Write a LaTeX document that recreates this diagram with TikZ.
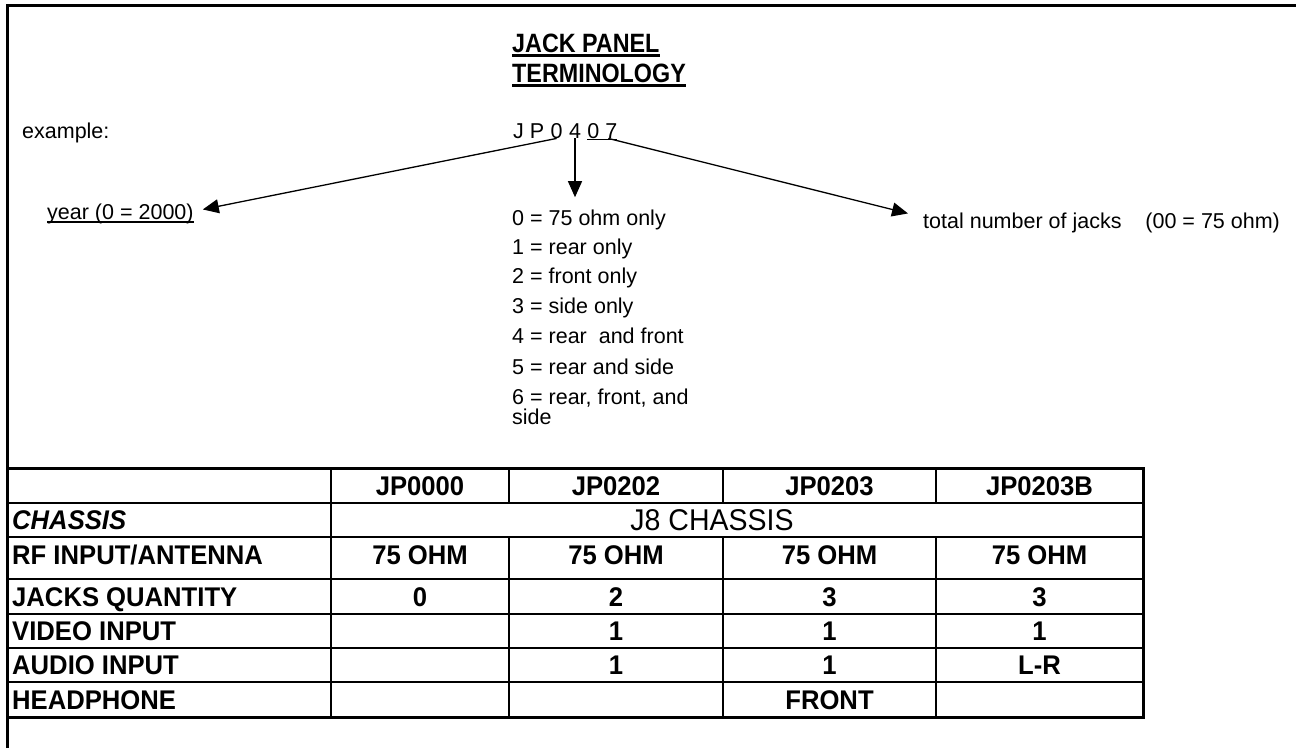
\documentclass[tikz,border=0pt]{standalone}
\usepackage{fontspec}
\setmainfont{Liberation Sans}
\newfontfamily\narrowfont[FakeStretch=0.88]{Liberation Sans}
\newfontfamily\tablefont[FakeStretch=0.95]{Liberation Sans}
\usetikzlibrary{arrows.meta,positioning}

\tikzset{
  body/.style={font=\fontsize{21.5}{26}\selectfont,inner sep=0pt,anchor=base west},
  titletxt/.style={font=\narrowfont\bfseries\fontsize{26.5}{30}\selectfont,inner sep=0pt,anchor=base west},
  tabbold/.style={font=\tablefont\bfseries\fontsize{27}{30}\selectfont,inner sep=0pt,text depth=0pt},
  rowname/.style={tabbold,anchor=west},
  rowital/.style={rowname,font=\tablefont\bfseries\itshape\fontsize{27}{30}\selectfont},
  spantxt/.style={font=\tablefont\fontsize{30}{34}\selectfont,inner sep=0pt,text depth=0pt},
  pointer/.style={-{Triangle[length=16pt,width=14pt]},line width=1.3pt},
  gridline/.style={line width=1.4pt},
  frameline/.style={line width=3pt},
}

\begin{document}
\begin{tikzpicture}[x=1pt,y=-1pt]
\useasboundingbox (0,0) rectangle (1296,748);
% frame, left and top only
\draw[frameline] (7,748) -- (7,5) -- (1296,5);

% heading
\node[titletxt] (ttl1) at (512,52) {JACK PANEL};
\node[titletxt] (ttl2) at (512,82) {TERMINOLOGY};
\draw[line width=2.4pt] ([yshift=-3.5pt]ttl1.base west) -- ([yshift=-3.5pt]ttl1.base east);
\draw[line width=2.4pt] ([yshift=-3.5pt]ttl2.base west) -- ([yshift=-3.5pt]ttl2.base east);

% code
\node[body] (example) at (22,138) {example:};
\node[body] (jp) at (513,138) {J P};
\node[body,base right=6pt of jp] (yrdigit) {0};
\node[body,base right=6pt of yrdigit] (kind) {4};
\node[body,base right=6pt of kind] (count) {0 7};
\draw[line width=1.3pt] ([yshift=-1.5pt]count.base west) -- ([yshift=-1.5pt]count.base east);

% meanings
\node[body] (year) at (47,219) {year (0 = 2000)};
\draw[line width=1.2pt] ([yshift=-3pt]year.base west) -- ([yshift=-3pt]year.base east);
\node[body] (total) at (923,228) {total number of jacks\ \ \ \ (00 = 75 ohm)};
\node[body] (k0) at (512,225) {0 = 75 ohm only};
\node[body] (k1) at (512,254) {1 = rear only};
\node[body] (k2) at (512,283) {2 = front only};
\node[body] (k3) at (512,313) {3 = side only};
\node[body] (k4) at (512,343) {4 = rear\ \ and front};
\node[body] (k5) at (512,374) {5 = rear and side};
\node[body] (k6) at (512,404) {6 = rear, front, and};
\node[body] (k6b) at (512,424) {side};

\coordinate (yeartip) at ([xshift=9pt,yshift=4pt]year.east);
\coordinate (totaltip) at ([xshift=-15pt,yshift=9pt]total.west);
\path (kind.south) ++(0,59) coordinate (kindtip);
\draw[pointer] (yrdigit.south) -- (yeartip);
\draw[pointer] (kind.south) -- (kindtip);
\draw[pointer] ([xshift=6pt]count.south) -- (totaltip);

% table
\draw[frameline] (7,468) rectangle (1143,717);
\foreach \ry in {503,537,579,614,648,682}
  \draw[gridline] (7,\ry) -- (1143,\ry);
\draw[gridline] (331,468) -- (331,717);
\foreach \cx in {509,723,936} {
  \draw[gridline] (\cx,468) -- (\cx,503);
  \draw[gridline] (\cx,537) -- (\cx,717);
}

\node[tabbold] (h1) at (420,486) {JP0000};
\node[tabbold] (h2) at (616,486) {JP0202};
\node[tabbold] (h3) at (829.5,486) {JP0203};
\node[tabbold] (h4) at (1039.5,486) {JP0203B};

\node[rowital] (chs) at (12,520) {CHASSIS};
\node[spantxt] (j8) at (712,520) {J8 CHASSIS};

\node[rowname] (rf) at (12,555) {RF INPUT/ANTENNA};
\node[tabbold] (rf1) at (420,555) {75 OHM};
\node[tabbold] (rf2) at (616,555) {75 OHM};
\node[tabbold] (rf3) at (829.5,555) {75 OHM};
\node[tabbold] (rf4) at (1039.5,555) {75 OHM};

\node[rowname] (jq) at (12,597) {JACKS QUANTITY};
\node[tabbold] (jq1) at (420,597) {0};
\node[tabbold] (jq2) at (616,597) {2};
\node[tabbold] (jq3) at (829.5,597) {3};
\node[tabbold] (jq4) at (1039.5,597) {3};

\node[rowname] (vid) at (12,631) {VIDEO INPUT};
\node[tabbold] (vid2) at (616,631) {1};
\node[tabbold] (vid3) at (829.5,631) {1};
\node[tabbold] (vid4) at (1039.5,631) {1};

\node[rowname] (aud) at (12,665) {AUDIO INPUT};
\node[tabbold] (aud2) at (616,665) {1};
\node[tabbold] (aud3) at (829.5,665) {1};
\node[tabbold] (aud4) at (1039.5,665) {L-R};

\node[rowname] (hp) at (12,700) {HEADPHONE};
\node[tabbold] (hp3) at (829.5,700) {FRONT};
\end{tikzpicture}
\end{document}
